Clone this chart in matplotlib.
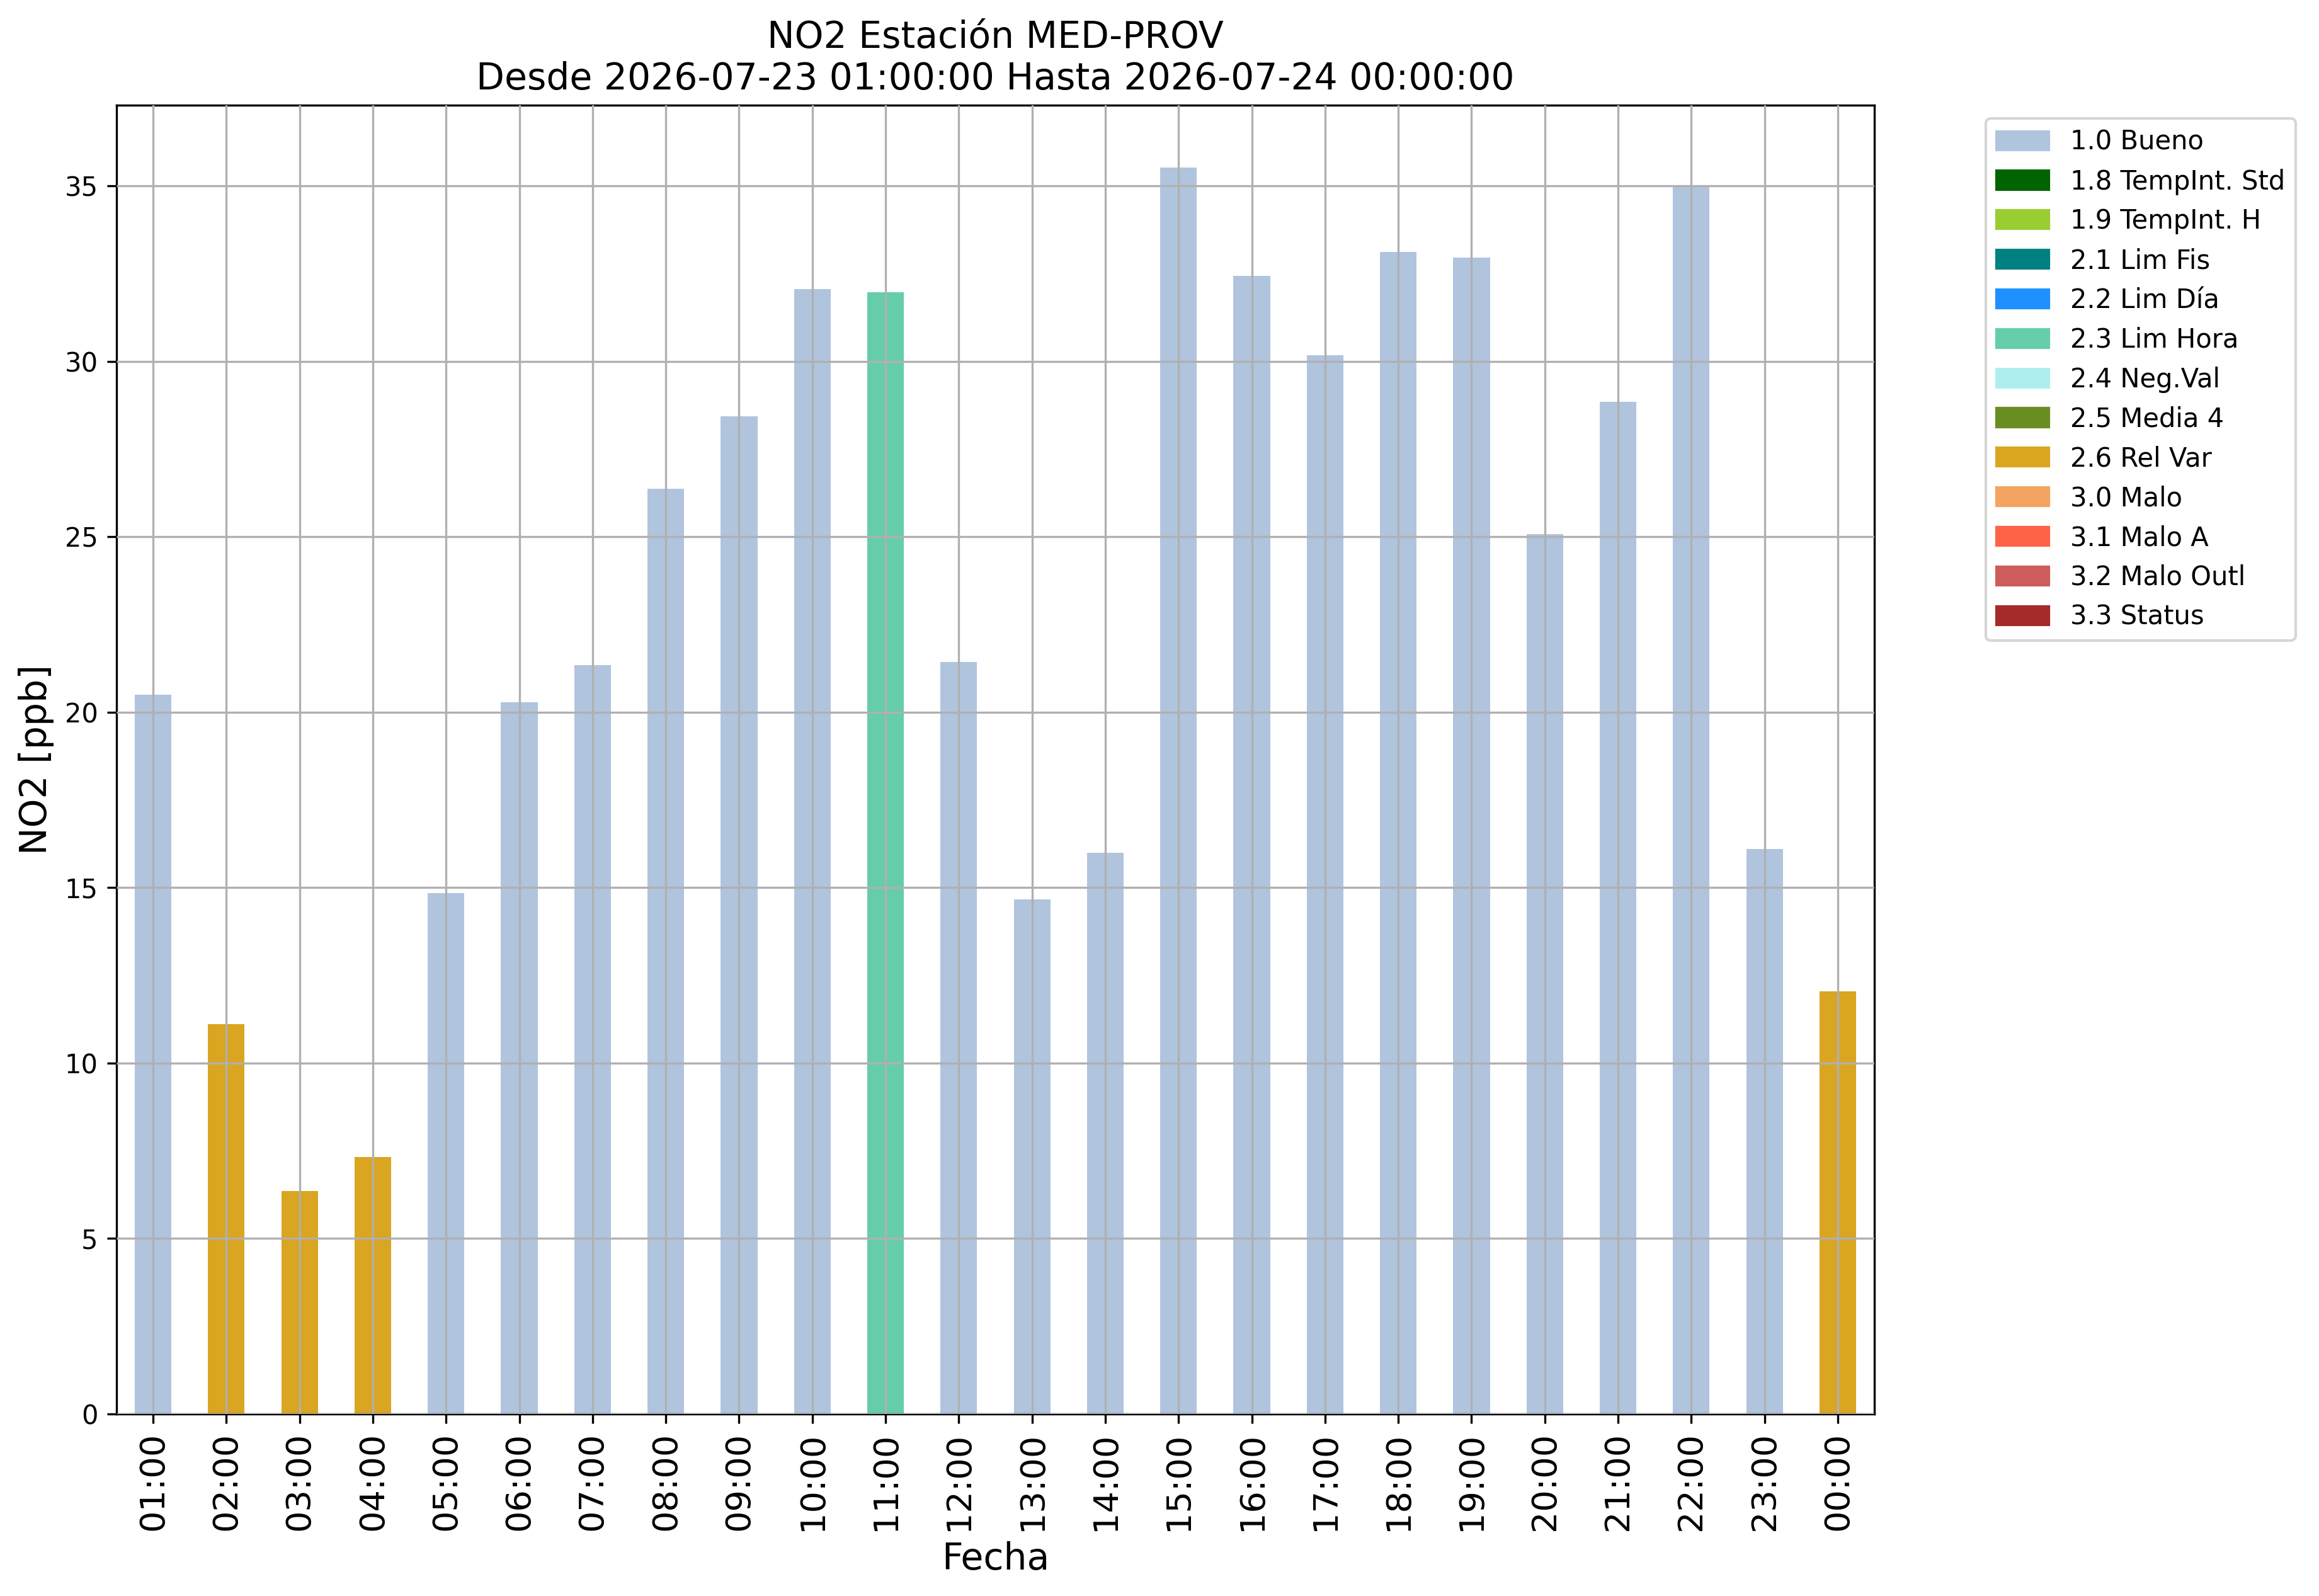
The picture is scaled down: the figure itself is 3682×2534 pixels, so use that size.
import numpy as np
import matplotlib
matplotlib.use("Agg")
import matplotlib.pyplot as plt
from matplotlib.patches import Patch

# hourly NO2 values and their validation flag
hours = ["01:00", "02:00", "03:00", "04:00", "05:00", "06:00", "07:00", "08:00",
         "09:00", "10:00", "11:00", "12:00", "13:00", "14:00", "15:00", "16:00",
         "17:00", "18:00", "19:00", "20:00", "21:00", "22:00", "23:00", "00:00"]
no2 = [20.49, 11.11, 6.35, 7.33, 14.84, 20.29, 21.34, 26.36,
       28.43, 32.06, 31.97, 21.44, 14.66, 15.99, 35.52, 32.43,
       30.18, 33.12, 32.96, 25.07, 28.85, 34.97, 16.10, 12.05]
flags = ["1.0", "2.6", "2.6", "2.6", "1.0", "1.0", "1.0", "1.0",
         "1.0", "1.0", "2.3", "1.0", "1.0", "1.0", "1.0", "1.0",
         "1.0", "1.0", "1.0", "1.0", "1.0", "1.0", "1.0", "2.6"]

flag_codes = ["1.0", "1.8", "1.9", "2.1", "2.2", "2.3", "2.4",
              "2.5", "2.6", "3.0", "3.1", "3.2", "3.3"]
flag_names = ["1.0 Bueno", "1.8 TempInt. Std", "1.9 TempInt. H", "2.1 Lim Fis",
              "2.2 Lim Día", "2.3 Lim Hora", "2.4 Neg.Val", "2.5 Media 4",
              "2.6 Rel Var", "3.0 Malo", "3.1 Malo A", "3.2 Malo Outl", "3.3 Status"]
flag_colors = ["lightsteelblue", "darkgreen", "yellowgreen", "teal", "dodgerblue",
               "mediumaquamarine", "paleturquoise", "olivedrab", "goldenrod",
               "sandybrown", "tomato", "indianred", "brown"]

color_of = dict(zip(flag_codes, flag_colors))

fig = plt.figure(figsize=(3682 / 300, 2534 / 300), dpi=300)
ax = fig.add_axes([0.0502, 0.1141, 0.8083 - 0.0502, 0.934 - 0.1141])

x = np.arange(len(hours))
ax.bar(x, no2, width=0.5, color=[color_of[f] for f in flags])
ax.set_xlim(-0.5, len(hours) - 0.5)
ax.set_ylim(bottom=0)
ax.set_xticks(x)
ax.set_xticklabels(hours, rotation=90, fontsize=13)
ax.tick_params(axis="y", labelsize=10)
ax.grid(True)
ax.set_axisbelow(False)

ax.set_xlabel("Fecha", fontsize=14)
ax.set_ylabel("NO2 [ppb]", fontsize=14)
ax.set_title("NO2 Estación MED-PROV\nDesde 2026-07-23 01:00:00 Hasta 2026-07-24 00:00:00",
             fontsize=14)

handles = [Patch(color=c, label=n) for c, n in zip(flag_colors, flag_names)]
ax.legend(handles=handles, bbox_to_anchor=(1.056, 1), loc="upper left", fontsize=10)

fig.savefig("out.png", dpi=300)
